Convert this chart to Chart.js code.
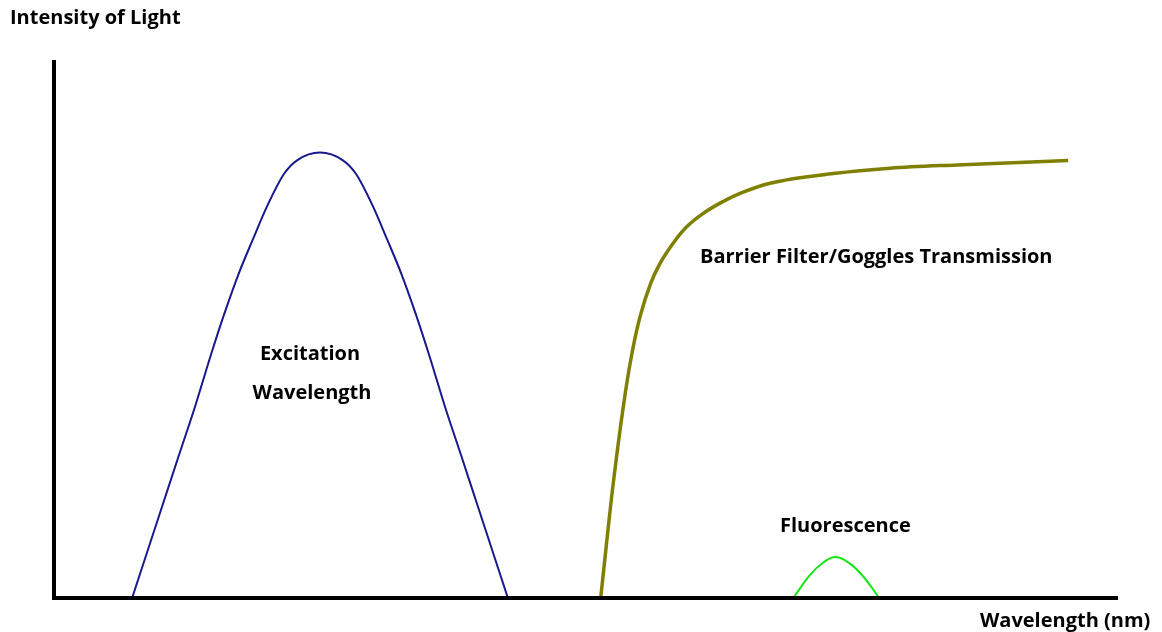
<!DOCTYPE html>
<html>
<head>
<meta charset="utf-8">
<script src="https://cdn.jsdelivr.net/npm/chart.js@4/dist/chart.umd.min.js"></script>
<style>
  html, body { margin: 0; padding: 0; background: #fff; }
  #wrap { width: 1162px; height: 632px; }
</style>
</head>
<body>
<div id="wrap"><canvas id="myChart" width="1162" height="632"></canvas></div>
<script>
// wavelength (nm, arbitrary scale) and relative intensity
const excitationX = [336.7, 350.8, 358.5, 366.3, 373.5, 380.1, 386.9, 393.3, 400.0, 408.2, 414.4, 425.0,
                     435.6, 441.8, 450.0, 456.7, 463.1, 469.9, 476.5, 483.7, 491.5, 499.2, 513.3];
const excitationY = [0, 17.0, 26.3, 35.6, 44.9, 52.9, 60.4, 66.5, 72.7, 78.9, 81.4, 82.8,
                     81.4, 78.9, 72.7, 66.5, 60.4, 52.9, 44.9, 35.6, 26.3, 17.0, 0];

const barrierX = [556.9, 562.8, 568.8, 571.9, 575.4, 580.4, 584.8, 591.8, 597.3, 605.1, 613.0, 622.4, 636.5, 666.2, 692.9, 724.2, 776.6];
const barrierY = [0, 21.3, 39.0, 46.1, 52.3, 58.5, 62.2, 66.4, 69.0, 71.5, 73.4, 75.2, 77.1, 78.9, 79.9, 80.5, 81.3];

const fluorX = [647.4, 655.3, 661.5, 667.3, 674.0, 680.3, 687.8];
const fluorY = [0, 4.3, 6.6, 7.6, 6.4, 4.0, 0];

const labels = ['Excitation', 'Wavelength', 'Barrier Filter/Goggles Transmission', 'Fluorescence'];

const toPoints = (xs, ys) => xs.map((x, i) => ({ x: x, y: ys[i] }));

const FONT = 'bold 20px "Open Sans", Lato, sans-serif';

// axes + captions, drawn on top of the chart
const decor = {
    id: 'decor',
    afterDraw(chart) {
        const ctx = chart.ctx;
        const a = chart.chartArea;
        ctx.save();
        ctx.strokeStyle = '#000';
        ctx.lineWidth = 4;
        ctx.lineCap = 'butt';
        ctx.beginPath();
        ctx.moveTo(a.left, a.top);
        ctx.lineTo(a.left, a.bottom + 2);
        ctx.moveTo(a.left - 2, a.bottom);
        ctx.lineTo(a.right, a.bottom);
        ctx.stroke();

        ctx.fillStyle = '#000';
        ctx.font = FONT;
        ctx.textBaseline = 'middle';
        ctx.textAlign = 'left';
        ctx.fillText('Intensity of Light', 10, 18);
        ctx.fillText('Wavelength (nm)', 980, 621);

        ctx.textAlign = 'center';
        ctx.fillText(labels[0], 310, 354);
        ctx.fillText(labels[1], 312, 393);
        ctx.textAlign = 'left';
        ctx.fillText(labels[2], 700, 257);
        ctx.fillText(labels[3], 780, 526);
        ctx.restore();
    }
};

new Chart(document.getElementById('myChart'), {
    type: 'line',
    data: {
        datasets: [{
            label: 'Excitation',
            data: toPoints(excitationX, excitationY),
            borderColor: 'rgb(25, 25, 140)',
            borderWidth: 2,
            cubicInterpolationMode: 'monotone',
            pointRadius: 0
        }, {
            label: 'Barrier',
            data: toPoints(barrierX, barrierY),
            borderColor: 'rgb(128, 128, 0)',
            borderWidth: 3.5,
            cubicInterpolationMode: 'monotone',
            pointRadius: 0
        }, {
            label: 'Fluorescence',
            data: toPoints(fluorX, fluorY),
            borderColor: 'rgb(20, 230, 20)',
            borderWidth: 2,
            tension: 0.4,
            pointRadius: 0
        }]
    },
    options: {
        responsive: false,
        animation: false,
        layout: { padding: { left: 54, right: 44, top: 60, bottom: 34 } },
        plugins: { legend: { display: false }, tooltip: { enabled: false } },
        scales: {
            x: { type: 'linear', min: 300, max: 800, display: false },
            y: { min: 0, max: 100, display: false }
        }
    },
    plugins: [decor]
});
</script>
</body>
</html>
